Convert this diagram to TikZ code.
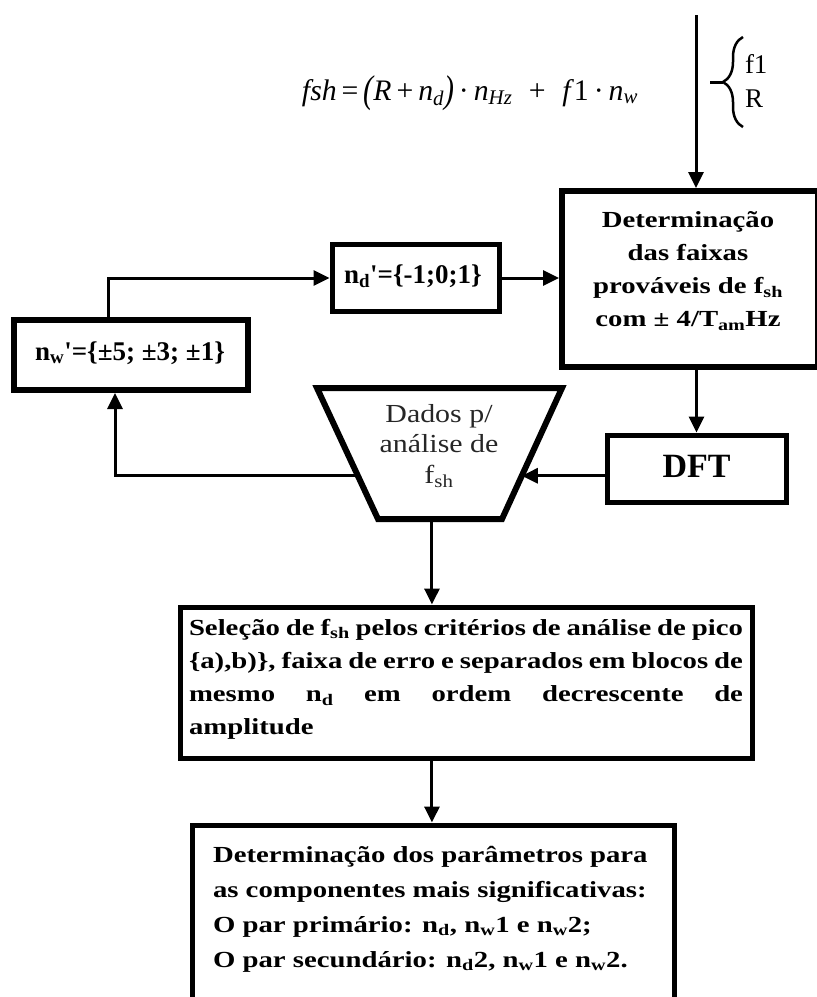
\documentclass[tikz,border=0pt]{standalone}
\usepackage{fontspec}
\usepackage{graphicx}
\setmainfont{Liberation Serif}
\newfontfamily\widefont{Liberation Serif}[FakeStretch=1.25]
\newfontfamily\midfont{Liberation Serif}[FakeStretch=1.15]
\usetikzlibrary{arrows.meta,calc,decorations.pathreplacing}
% parenthesis stretched vertically for the formula
\newcommand{\tallparen}[1]{\raisebox{-2.5pt}{\scalebox{1}[1.3]{#1}}}

\begin{document}
\begin{tikzpicture}[x=1pt,y=-1pt,
  conn/.style={line width=3pt},
  arr/.style={conn,-{Triangle[length=16pt,width=15pt]}},
  thickbox/.style={draw,line width=6pt,rectangle,inner sep=0pt},
  thinbox/.style={draw,line width=5pt,rectangle,inner sep=0pt},
  txt/.style={inner sep=0pt,outer sep=0pt},
  boldtxt/.style={txt,font=\bfseries\fontsize{27}{32}\selectfont},
  widetxt/.style={txt,font=\widefont\bfseries\fontsize{23}{33.3}\selectfont},
]
\useasboundingbox (0,0) rectangle (817,997);
\clip (0,0) rectangle (817,997);

% ---------- formula and input brace ----------
\node[txt,anchor=base] (formula) at (470,100)
  {\resizebox{336pt}{!}{\fontsize{28}{30}\selectfont\itshape
   fsh\,\textup{=}\,\tallparen{(}R\,\textup{+}\,n\textsubscript{d}\tallparen{)}\,\textup{·}\,n\textsubscript{Hz}\;\;\textup{+}\;\;f\textup{1}\,\textup{·}\,n\textsubscript{w}}};

\coordinate (brB) at (743,127);
\coordinate (brT) at (743,37);
\coordinate (brtip) at (723,82);
\coordinate (brfree) at (710,82);
\draw[line width=2.5pt,decorate,decoration={brace,amplitude=20pt}] (brB) -- (brT);
\draw[conn] (brfree) -- (brtip);
\node[txt,anchor=base west,font=\fontsize{27}{34}\selectfont] (brtxt) at (745,73)
  {\begin{tabular}[t]{@{}l@{}}f1\\R\end{tabular}};

% ---------- boxes ----------
\node[thickbox,minimum width=256pt,minimum height=176pt] (det) at (690,279) {};
\node[widetxt,anchor=base] (dettxt) at (688,227)
  {\begin{tabular}[t]{@{}c@{}}Determinação\\das faixas\\prováveis de f\textsubscript{sh}\\com ± 4/T\textsubscript{am}Hz\end{tabular}};

\node[thinbox,minimum width=167pt,minimum height=67pt] (nd) at (415.5,278) {};
\node[boldtxt,anchor=base] (ndtxt) at (413,283)
  {n\textsubscript{d}\textquotesingle=\{-1;0;1\}};

\node[thickbox,minimum width=234pt,minimum height=70pt] (nw) at (131,355) {};
\node[boldtxt,anchor=base] (nwtxt) at (130,360)
  {n\textsubscript{w}\textquotesingle=\{±5; ±3; ±1\}};

\node[thinbox,minimum width=179pt,minimum height=67pt] (dft) at (696.5,468.5) {};
\node[txt,anchor=base,font=\bfseries\fontsize{34}{36}\selectfont] (dfttxt) at (696.5,477) {DFT};

% data trapezoid
\coordinate (tTL) at (317,388);
\coordinate (tTR) at (562,388);
\coordinate (tBR) at (502,519);
\coordinate (tBL) at (378,519);
\draw[line width=6pt,line join=miter] (tTL) -- (tTR) -- (tBR) -- (tBL) -- cycle;
\node[txt,anchor=base,text=black!85,font=\midfont\fontsize{26}{30.5}\selectfont] (trtxt) at (439,422)
  {\begin{tabular}[t]{@{}c@{}}Dados p/\\análise de\\f\textsubscript{sh}\end{tabular}};

\node[thinbox,minimum width=572pt,minimum height=151pt] (sel) at (466,682.5) {};
\node[widetxt,anchor=base west] (seltxt) at (189,635)
  {\begin{tabular}[t]{@{}l@{}}
   \makebox[554pt][s]{Seleção de f\textsubscript{sh} pelos critérios de análise de pico}\\
   \makebox[554pt][s]{\{a),b)\}, faixa de erro e separados em blocos de}\\
   \makebox[554pt][s]{mesmo n\textsubscript{d} em ordem decrescente de}\\
   amplitude
   \end{tabular}};

\node[thinbox,minimum width=482pt,minimum height=185pt] (fin) at (433,917.5) {};
\node[txt,anchor=base west,font=\widefont\bfseries\fontsize{23}{35}\selectfont] (fintxt) at (213,862)
  {\begin{tabular}[t]{@{}l@{}}
   Determinação dos parâmetros para\\
   as componentes mais significativas:\\
   O par primário: n\textsubscript{d}, n\textsubscript{w}1 e n\textsubscript{w}2;\\
   O par secundário: n\textsubscript{d}2, n\textsubscript{w}1 e n\textsubscript{w}2.
   \end{tabular}};

% ---------- connectors ----------
\coordinate (topin) at (696,15);
\coordinate (nwout) at (108,0);
\coordinate (nwin) at (115,0);
\coordinate (trR) at ($(tTR)!0.67!(tBR)$);
\coordinate (trL) at ($(tTL)!0.67!(tBL)$);
\coordinate (tbot) at ($(tBL)!0.435!(tBR)$);

\draw[arr] (topin) -- (topin |- det.north);
\draw[arr] (nwout |- nw.north) |- (nd.west);
\draw[arr] (nd.east) -- (nd.east -| det.west);
\draw[arr] (dft.north |- det.south) -- (dft.north);
\draw[arr] (dft.west |- trR) -- (trR);
\draw[arr] (trL) -| (nwin |- nw.south);
\draw[arr] (tbot) -- (tbot |- sel.north);
\draw[arr] (tbot |- sel.south) -- (tbot |- fin.north);
\end{tikzpicture}
\end{document}
